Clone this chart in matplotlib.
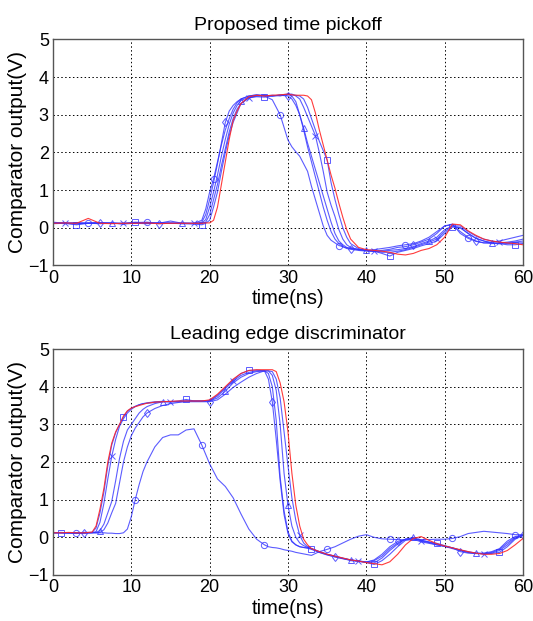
import numpy as np
import matplotlib
matplotlib.use("Agg")
import matplotlib.pyplot as plt

plt.rcParams['font.family'] = ['Liberation Sans', 'DejaVu Sans']

# ---- top panel : proposed time pickoff ----
t_top = [0, 1.5, 3, 4.5, 6, 7.5, 9, 10.5, 12, 13.5, 15, 16.5, 18,
         19, 19.5, 20, 20.5, 21, 21.5, 22, 22.5, 23, 23.5, 24,
         25, 26, 27, 28, 29, 30,
         30.5, 31, 31.5, 32, 32.5, 33, 33.5, 34, 34.5, 35, 35.5, 36, 36.5, 37, 37.5, 38,
         39, 40, 41, 42, 43, 44, 45, 46, 47, 48, 49, 50, 51, 52, 53, 54, 55, 56, 57, 58, 59, 60]

red_top = [0.12, 0.13, 0.12, 0.25, 0.12, 0.11, 0.12, 0.12, 0.13, 0.11, 0.12, 0.12, 0.12,
           0.12, 0.13, 0.13, 0.2, 0.55, 1.15, 1.75, 2.35, 2.85, 3.1, 3.3,
           3.48, 3.52, 3.5, 3.52, 3.53, 3.55,
           3.53, 3.52, 3.52, 3.52, 3.5, 3.4, 3.05, 2.6, 2.2, 1.8, 1.4, 1.05, 0.65, 0.28, -0.05, -0.3,
           -0.52, -0.58, -0.6, -0.62, -0.65, -0.7, -0.72, -0.68, -0.6, -0.55, -0.45, -0.25, 0.1, 0.08,
           -0.08, -0.2, -0.3, -0.35, -0.38, -0.4, -0.42, -0.45]

circ_top = [0.15, 0.12, 0.1, 0.13, 0.14, 0.12, 0.11, 0.14, 0.15, 0.12, 0.13, 0.11, 0.12,
            0.2, 0.5, 0.95, 1.3, 1.75, 2.2, 2.6, 2.9, 3.15, 3.32, 3.42,
            3.5, 3.53, 3.5, 3.4, 3.0, 2.33,
            2.15, 2.02, 1.9, 1.7, 1.5, 1.1, 0.75, 0.4, 0.05, -0.2, -0.33, -0.4, -0.47, -0.5, -0.53, -0.55,
            -0.57, -0.6, -0.58, -0.55, -0.52, -0.48, -0.45, -0.42, -0.35, -0.25, -0.1, 0.05, 0.1, -0.15,
            -0.28, -0.36, -0.4, -0.38, -0.35, -0.3, -0.25, -0.2]

dia_top = [0.13, 0.11, 0.14, 0.12, 0.12, 0.13, 0.1, 0.12, 0.14, 0.11, 0.12, 0.13, 0.12,
           0.15, 0.35, 0.75, 1.2, 1.7, 2.25, 2.8, 3.1, 3.25, 3.35, 3.42,
           3.5, 3.53, 3.52, 3.5, 3.52, 3.5,
           3.42, 3.25, 3.0, 2.6, 2.15, 1.75, 1.35, 0.95, 0.55, 0.2, -0.1, -0.3, -0.42, -0.5, -0.55, -0.57,
           -0.6, -0.62, -0.62, -0.6, -0.57, -0.52, -0.5, -0.45, -0.38, -0.3, -0.15, 0.05, 0.08, -0.1,
           -0.25, -0.35, -0.4, -0.42, -0.4, -0.38, -0.35, -0.3]

tri_top = [0.12, 0.14, 0.11, 0.12, 0.13, 0.12, 0.11, 0.13, 0.12, 0.12, 0.18, 0.12, 0.11,
           0.12, 0.22, 0.55, 0.95, 1.4, 1.9, 2.35, 2.75, 3.05, 3.25, 3.38,
           3.47, 3.5, 3.52, 3.5, 3.53, 3.55,
           3.5, 3.35, 3.0, 2.65, 2.25, 1.9, 1.55, 1.2, 0.85, 0.5, 0.15, -0.15, -0.35, -0.45, -0.52, -0.55,
           -0.58, -0.6, -0.63, -0.62, -0.6, -0.58, -0.55, -0.5, -0.42, -0.35, -0.25, -0.05, 0.05, 0.0,
           -0.15, -0.28, -0.35, -0.4, -0.42, -0.4, -0.38, -0.35]

x_top = [0.11, 0.12, 0.13, 0.12, 0.11, 0.12, 0.13, 0.12, 0.11, 0.13, 0.12, 0.12, 0.12,
         0.11, 0.15, 0.35, 0.75, 1.15, 1.65, 2.1, 2.55, 2.9, 3.15, 3.3,
         3.45, 3.5, 3.5, 3.52, 3.5, 3.55,
         3.55, 3.5, 3.42, 3.2, 2.95, 2.7, 2.45, 2.0, 1.5, 0.95, 0.6, 0.3, -0.05, -0.3, -0.45, -0.52,
         -0.58, -0.6, -0.62, -0.65, -0.65, -0.62, -0.58, -0.52, -0.45, -0.38, -0.3, -0.1, 0.05, 0.05,
         -0.1, -0.22, -0.3, -0.35, -0.38, -0.42, -0.4, -0.4]

sq_top = [0.12, 0.12, 0.08, 0.12, 0.13, 0.12, 0.11, 0.15, 0.12, 0.13, 0.12, 0.11, 0.1,
          0.08, 0.12, 0.2, 0.55, 0.95, 1.5, 2.0, 2.45, 2.8, 3.05, 3.3,
          3.45, 3.48, 3.47, 3.5, 3.52, 3.53,
          3.53, 3.52, 3.5, 3.42, 3.2, 2.9, 2.6, 2.3, 2.05, 1.8, 1.2, 0.75, 0.35, 0.0, -0.25, -0.42,
          -0.55, -0.6, -0.62, -0.68, -0.75, -0.65, -0.6, -0.55, -0.48, -0.42, -0.35, -0.15, 0.02, 0.0,
          -0.15, -0.28, -0.35, -0.4, -0.42, -0.45, -0.45, -0.42]

# ---- bottom panel : leading edge discriminator ----
t_bot = [0, 1, 2, 3, 4, 5,
         5.5, 6, 6.5, 7, 7.5, 8, 8.5, 9, 9.5, 10, 10.5, 11, 11.5, 12,
         13, 14, 15, 16, 17, 18, 19, 20, 21, 22, 23, 24, 25, 26, 27,
         27.5, 28, 28.5, 29, 29.5, 30, 30.5, 31, 31.5, 32, 32.5, 33,
         34, 35, 36, 37, 38, 39, 40, 41, 42, 43, 44, 45, 46, 47, 48, 49, 50, 51, 52, 53, 54, 55, 56, 57, 58, 59, 60]

red_bot = [0.12, 0.12, 0.13, 0.12, 0.12, 0.14,
           0.3, 0.75, 1.3, 2.0, 2.5, 2.8, 3.0, 3.22, 3.36, 3.43, 3.47, 3.5, 3.53, 3.56,
           3.59, 3.6, 3.61, 3.62, 3.62, 3.62, 3.62, 3.65, 3.8, 4.0, 4.2, 4.35, 4.43, 4.45, 4.45,
           4.45, 4.45, 4.4, 4.1, 3.6, 2.8, 1.7, 0.85, 0.3, -0.05, -0.2, -0.3,
           -0.38, -0.45, -0.5, -0.55, -0.6, -0.63, -0.67, -0.7, -0.73, -0.65, -0.45, -0.2, -0.03, 0.02,
           -0.08, -0.17, -0.23, -0.28, -0.33, -0.38, -0.42, -0.45, -0.45, -0.43, -0.35, -0.2, -0.03]

sq_bot = [0.13, 0.12, 0.12, 0.12, 0.13, 0.13,
          0.25, 0.65, 1.2, 1.9, 2.45, 2.78, 3.0, 3.2, 3.35, 3.43, 3.48, 3.52, 3.55, 3.56,
          3.58, 3.6, 3.6, 3.62, 3.66, 3.62, 3.62, 3.63, 3.78, 3.98, 4.18, 4.35, 4.43, 4.44, 4.42,
          4.35, 4.0, 3.1, 1.6, 0.7, 0.15, -0.1, -0.2, -0.25, -0.27, -0.28, -0.3,
          -0.38, -0.45, -0.5, -0.56, -0.62, -0.64, -0.67, -0.72, -0.62, -0.45, -0.25, -0.08, -0.02, -0.08,
          -0.12, -0.16, -0.22, -0.28, -0.34, -0.4, -0.43, -0.44, -0.43, -0.4, -0.25, -0.05, 0.05]

x_bot = [0.12, 0.13, 0.12, 0.12, 0.13, 0.12,
         0.15, 0.4, 0.9, 1.55, 2.15, 2.6, 2.95, 3.15, 3.3, 3.4, 3.47, 3.52, 3.55, 3.57,
         3.6, 3.61, 3.6, 3.6, 3.62, 3.62, 3.62, 3.62, 3.75, 3.95, 4.15, 4.3, 4.38, 4.42, 4.42,
         4.42, 4.4, 4.2, 3.7, 2.8, 1.9, 1.05, 0.45, 0.05, -0.15, -0.25, -0.3,
         -0.4, -0.46, -0.52, -0.57, -0.6, -0.63, -0.66, -0.68, -0.55, -0.35, -0.18, -0.05, -0.03, -0.1,
         -0.14, -0.2, -0.24, -0.3, -0.35, -0.4, -0.42, -0.44, -0.42, -0.35, -0.2, -0.02, 0.05]

tri_bot = [0.12, 0.12, 0.11, 0.12, 0.12, 0.13,
           0.13, 0.18, 0.35, 0.65, 0.95, 1.5, 2.1, 2.55, 2.85, 3.0, 3.15, 3.3, 3.4, 3.47,
           3.55, 3.6, 3.6, 3.6, 3.62, 3.62, 3.62, 3.62, 3.7, 3.88, 4.1, 4.25, 4.35, 4.4, 4.42,
           4.42, 4.3, 3.9, 3.0, 1.7, 0.85, 0.3, 0.0, -0.15, -0.22, -0.27, -0.3,
           -0.38, -0.45, -0.5, -0.55, -0.6, -0.63, -0.65, -0.62, -0.5, -0.3, -0.15, -0.05, 0.0, -0.08,
           -0.13, -0.18, -0.24, -0.28, -0.34, -0.38, -0.42, -0.43, -0.4, -0.32, -0.15, 0.0, 0.06]

dia_bot = [0.12, 0.12, 0.12, 0.1, 0.12, 0.12,
           0.12, 0.13, 0.2, 0.38, 0.65, 0.9, 1.45, 2.0, 2.4, 2.7, 2.9, 3.05, 3.2, 3.3,
           3.42, 3.5, 3.55, 3.58, 3.6, 3.6, 3.6, 3.6, 3.65, 3.8, 3.98, 4.12, 4.25, 4.35, 4.42,
           4.2, 3.6, 2.6, 1.5, 0.6, 0.1, -0.12, -0.2, -0.25, -0.27, -0.29, -0.32,
           -0.4, -0.47, -0.52, -0.56, -0.6, -0.63, -0.66, -0.6, -0.45, -0.25, -0.11, -0.05, -0.05, -0.12,
           -0.16, -0.2, -0.24, -0.28, -0.38, -0.42, -0.43, -0.42, -0.38, -0.3, -0.1, 0.02, 0.06]

circ_bot = [0.12, 0.12, 0.12, 0.11, 0.1, 0.12,
            0.12, 0.12, 0.12, 0.11, 0.11, 0.1, 0.1, 0.12, 0.22, 0.55, 1.0, 1.4, 1.75, 2.0,
            2.4, 2.65, 2.72, 2.72, 2.85, 2.88, 2.45, 1.95, 1.55, 1.35, 1.05, 0.62, 0.22, -0.05, -0.2,
            -0.25, -0.27, -0.28, -0.3, -0.33, -0.35, -0.37, -0.4, -0.42, -0.44, -0.46, -0.48,
            -0.38, -0.32, -0.25, -0.15, -0.05, 0.03, 0.07, 0.0, -0.04, -0.05, -0.06, -0.07, -0.07, -0.06,
            -0.06, -0.05, -0.05, -0.03, 0.02, 0.1, 0.13, 0.16, 0.14, 0.12, 0.1, 0.07, 0.07]


def marks(t, first):
    # MATLAB style: one marker every 8 ns
    t = np.asarray(t)
    return [int(np.abs(t - m).argmin()) for m in np.arange(first, 60.5, 8)]


blue = (0.2, 0.2, 1.0)
red = (1.0, 0.15, 0.15)

top_curves = [(circ_top, 'o', 4.6), (dia_top, 'd', 6.2), (tri_top, '^', 7.8),
              (x_top, 'x', 1.4), (sq_top, 's', 3.0)]
bot_curves = [(sq_bot, 's', 1.0), (circ_bot, 'o', 2.6), (dia_bot, 'd', 4.2),
              (tri_bot, '^', 5.8), (x_bot, 'x', 7.3)]

fig = plt.figure(figsize=(5.33, 6.21), dpi=100)
ax1 = fig.add_axes([0.0994, 0.5725, 0.8818, 0.3639])
ax2 = fig.add_axes([0.0994, 0.0741, 0.8818, 0.3639])

for ax, t, curves, redv, title in [(ax1, t_top, top_curves, red_top, "Proposed time pickoff"),
                                   (ax2, t_bot, bot_curves, red_bot, "Leading edge discriminator")]:
    for y, m, off in curves:
        ax.plot(t, y, color=blue, lw=0.8, alpha=0.8, marker=m, ms=4.5,
                mfc='none', mec=blue, mew=0.7, markevery=marks(t, off))
    ax.plot(t, redv, color=red, lw=0.8, alpha=0.9)
    ax.set_xlim(0, 60)
    ax.set_ylim(-1, 5)
    ax.set_xticks(range(0, 61, 10))
    ax.set_yticks(range(-1, 6))
    ax.grid(True, linestyle=(0, (1.5, 2.5)), color='black', lw=0.7)
    ax.tick_params(direction='in', length=0, labelsize=13, pad=3)
    for s in ax.spines.values():
        s.set_color('#555555')
        s.set_linewidth(1.0)
    ax.set_title(title, fontsize=14, pad=7)
    ax.set_xlabel("time(ns)", fontsize=14.5, labelpad=2)
    ax.set_ylabel("Comparator output(V)", fontsize=15, labelpad=1)

plt.savefig("out.png", dpi=100)
